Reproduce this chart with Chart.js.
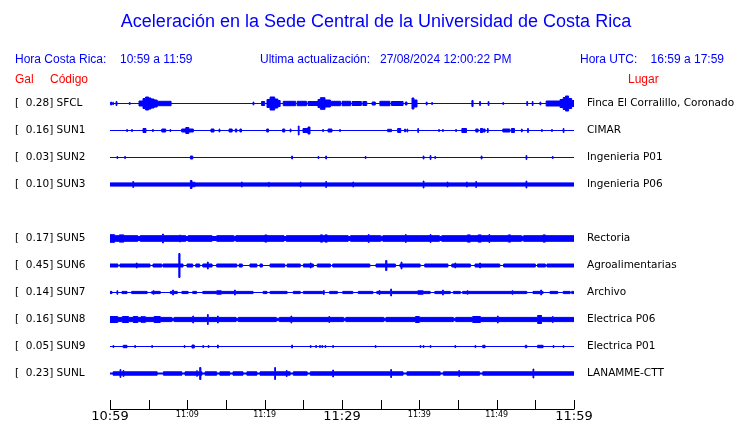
<!DOCTYPE html>
<html>
<head>
<meta charset="utf-8">
<script src="https://cdn.jsdelivr.net/npm/chart.js@4/dist/chart.umd.min.js"></script>
<style>
  html, body { margin: 0; padding: 0; background: #fff; }
  canvas { display: block; }
</style>
</head>
<body>
<canvas id="sismo" width="740" height="423"></canvas>
<script>
// station rows (slot 4 is empty in the original page)
const CODES  = ['SFCL', 'SUN1', 'SUN2', 'SUN3', 'SUN5', 'SUN6', 'SUN7', 'SUN8', 'SUN9', 'SUNL'];
const SLOTS  = [0, 1, 2, 3, 5, 6, 7, 8, 9, 10];
const PEAK_GAL = ['0.28', '0.16', '0.03', '0.10', '0.17', '0.45', '0.14', '0.16', '0.05', '0.23'];
const PLACES = ['Finca El Corralillo, Coronado', 'CIMAR', 'Ingenieria P01', 'Ingenieria P06', 'Rectoria',
                'Agroalimentarias', 'Archivo', 'Electrica P06', 'Electrica P01', 'LANAMME-CTT'];

// time axis (minutes after 10:59)
const TICK_MINUTES = [0, 5, 10, 15, 20, 25, 30, 35, 40, 45, 50, 55, 60];
const LABEL_MINUTES = [0, 10, 20, 30, 40, 50, 60];
const TICK_LABELS = ['10:59', '11:09', '11:19', '11:29', '11:39', '11:49', '11:59'];

// envelope half-amplitude of each trace between events
const BASE_AMP = [0, 0, 0, 1.6, 2.8, 1.5, 1.1, 2.1, 0, 1.7];

// events: [fromMin, toMin, halfAmp]; later entries win where they overlap
const EV_SFCL = [[0.09,0.2,1.5],[0.35,0.45,1.2],[0.78,0.9,2],[2.5,2.6,1],
  [3.75,4.27,2.5],[4.27,4.6,5],[4.6,5.0,6.5],[5.0,5.3,5.5],[5.3,5.7,4.5],[5.7,6.1,3.5],[6.1,7.9,2.2],
  [18.5,18.6,1.5],[19.6,20.0,2],[20.3,20.7,4],[20.7,21.3,6.5],[21.3,21.7,4.5],[21.7,22.0,3],
  [22.4,24.0,2.2],[24.2,25.4,2.2],[25.6,26.9,2],[26.9,27.2,4],[27.2,27.8,5.8],[27.8,28.5,3.5],
  [28.5,29.8,2.2],[30.0,31.1,2.2],[31.3,32.5,2],[32.7,33.2,2],[33.9,34.3,1.5],
  [34.9,36.2,2.2],[36.4,37.9,2],[38.2,38.4,1.5],[39.05,39.3,5.5],[39.3,39.7,3.5],
  [40.9,41.0,1.5],[41.6,41.7,1],[46.8,46.95,3],[47.8,47.9,2],[48.9,49.0,2],[50.8,50.9,1],
  [53.9,54.0,2],[54.6,54.7,2],[55.6,55.7,1.5],[56.4,58.2,2.5],[58.2,58.6,4],[58.6,58.9,6],
  [58.9,59.3,7.5],[59.3,59.7,5],[59.7,60,3]];
const EV_SUN1 = [[2.16,2.26,1],[2.8,2.9,1],[4.27,4.65,2],[5.5,5.6,1],[6.7,7.2,1.5],[7.76,7.86,1],
  [9.27,10.77,1.5],[9.8,10.2,3],[13.06,13.45,1.5],[14.1,14.2,1.5],[15.4,15.8,1.5],[16.2,16.4,1.5],[16.8,17.0,1.5],
  [20.26,20.5,1.5],[22.33,22.6,1.5],[23.3,23.4,1.5],[24.35,24.45,4.5],[24.96,25.86,2],[25.6,25.86,3.5],
  [27.5,27.6,1],[28.2,28.7,1.5],[29.7,29.8,1],[35.9,36.4,1.2],[37.2,37.6,2],[38.1,38.2,1.5],[38.4,38.5,1.5],
  [39.8,39.9,2],[42.5,42.6,1],[43.0,43.1,1],[44.7,44.8,1],[45.5,46.1,2],[47.3,47.6,1.5],[47.9,48.2,2],
  [48.3,48.5,1.5],[48.8,48.9,2],[50.8,51.7,1.5],[51.9,52.3,2],[53.2,53.3,1.5],[54.0,54.1,2],[55.8,55.9,1],
  [57.1,57.2,1],[58.6,58.7,2]];
const EV_SUN2 = [[0.9,1.0,1],[1.9,2.0,1],[10.4,10.7,1.5],[23.5,23.6,1.5],[26.9,27.0,1],[27.9,28.0,1.5],
  [33.0,33.1,1],[40.5,40.6,1.5],[41.4,41.5,2],[42.0,42.1,1],[48.0,48.1,1.5],[53.8,53.9,2],[57.2,57.3,1]];
const EV_SUN3 = [[2.95,3.05,3],[10.6,11.0,2.2],[10.4,10.6,4],[17.0,17.1,2.5],[20.5,20.6,2.2],[24.6,24.7,2.5],
  [27.9,28.0,3],[31.4,31.5,2.5],[40.5,40.6,3.5],[43.6,43.7,2.5],[46.1,46.2,2.5],[47.3,47.4,3],[53.8,53.9,3.5]];
const EV_SUN5 = [[3.6,3.9,2],[9.8,10.1,2],[13.2,13.8,2],[16.0,16.3,2.2],[22.5,22.8,2],[30.8,31.1,2],
  [35.0,35.3,2.2],[42.6,42.9,2],[53.2,53.5,2.2],
  [0,0.6,3.8],[1.2,1.8,3.6],[6.8,6.9,4.5],[9.0,9.1,3.5],[20.0,20.3,3.5],[27.2,27.5,3.6],[27.8,28.1,3.6],
  [33.4,33.5,4],[38.2,38.3,4],[41.4,41.5,4],[46.2,46.6,3.6],[47.6,48.0,3.6],[49.0,49.1,4],[51.5,51.8,3.6],
  [56.0,56.3,3.6]];
const EV_SUN6 = [[1.03,1.29,0],[5.17,5.56,0],[6.7,6.85,0],[9.44,9.96,0],[10.7,11.1,0],[11.6,12.0,0],
  [13.2,13.8,0],[16.4,16.7,0],[17.1,18.1,0],[19.0,19.4,0],[19.7,20.7,0],[22.6,22.9,0],[24.6,25.0,0],
  [26.3,26.8,0],[28.5,28.8,0],[33.6,34.4,0],[36.9,37.5,0],[40.1,40.7,0],[43.7,44.2,0],[46.6,47.2,0],
  [50.4,50.9,0],[55.0,55.3,0],[56.3,56.5,0],
  [8.9,9.05,12],[3.4,3.5,2.5],[12.6,12.7,3.5],[25.9,26.0,2.5],[35.65,35.8,5],[37.65,37.75,3.5],
  [44.6,44.7,2.5],[47.8,47.9,2.5]];
const EV_SUN7 = [[0.26,1.55,0],[2.2,2.8,0],[4.8,5.4,0],[6.5,7.8,0],[8.7,9.3,0],[10.1,10.7,0],[11.2,12.0,0],
  [18.5,19.8,0],[20.3,20.7,0],[22.9,23.7,0],[24.6,25.0,0],[27.5,28.4,0],[29.4,30.1,0],[31.4,32.1,0],
  [34.0,34.5,0],[41.4,42.0,0],[44.0,44.4,0],[45.3,45.6,0],[53.9,54.7,0],[56.0,56.9,0],[57.9,58.6,0],[59.5,59.7,0],
  [0.9,1.0,1.8],[5.6,5.7,1.8],[8.1,8.2,2.5],[13.8,14.4,1.7],[16.1,16.2,2.5],[27.6,27.7,2],[34.8,34.9,2],
  [36.3,36.4,3.5],[39.8,40.5,1.7],[43.0,43.1,2.5],[46.2,46.3,1.8],[52.0,52.1,1.8],[55.7,55.8,2.5]];
const EV_SUN8 = [[8.0,8.3,1.2],[16.3,16.6,1.2],[21.5,21.9,1.2],[30.2,30.5,1.2],[35.4,35.7,1.2],[44.4,44.7,1.2],
  [0,1.0,3],[1.6,2.4,3],[3.0,3.6,3],[4.0,4.6,2.8],[5.7,6.5,3],[10.7,10.8,3.5],[12.6,12.7,5],[13.9,14.0,3.5],
  [23.4,23.5,3.5],[28.3,28.4,3],[39.5,40.0,3],[46.9,47.9,3],[50.1,50.2,3.5],[55.3,55.8,4],[57.2,57.3,3]];
const EV_SUN9 = [[0.39,0.49,1],[1.7,2.2,1.2],[3.2,3.3,1],[5.4,5.5,1],[9.6,9.7,1],[10.6,10.9,1.5],[12.0,12.1,1],
  [12.7,12.8,1],[13.9,14.0,1.5],[23.5,23.6,1.5],[25.9,26.0,1],[26.6,26.7,1],[27.1,27.2,1],[27.4,27.5,1],
  [27.8,27.9,1],[28.8,28.9,1],[34.3,34.4,1],[40.1,40.2,1],[40.5,40.6,1],[41.4,41.5,1],[44.6,44.7,1],
  [47.2,47.3,1],[48.2,48.5,1.2],[53.7,53.9,1.2],[55.3,56.0,1.2],[57.3,57.4,1],[58.6,58.7,1]];
const EV_SUNL = [[0,0.4,0.5],[6.1,6.9,0.5],[9.3,9.7,0.5],[11.9,12.3,0.5],[13.8,14.2,0.5],[15.5,15.9,0.5],
  [17.2,17.7,0.5],[19.0,19.4,0.5],[23.3,23.7,0.5],[25.5,25.9,0.5],[37.9,38.4,0.5],[42.7,43.1,0.5],[47.8,48.2,0.5],
  [1.3,1.4,4],[1.7,1.8,3],[11.2,11.3,2.8],[11.6,11.75,6],[21.3,21.4,6],[22.8,22.9,3],[28.8,28.9,3.5],
  [36.3,36.4,4],[45.1,45.2,3],[54.7,54.8,4.5]];
const EVENTS = [EV_SFCL, EV_SUN1, EV_SUN2, EV_SUN3, EV_SUN5, EV_SUN6, EV_SUN7, EV_SUN8, EV_SUN9, EV_SUNL];

const ROW_GAP = 27;
const BLUE = '#0000ff';

// stepped envelope: value holds from each breakpoint to the next
function envelope(base, events) {
  const set = new Set([0, 60]);
  events.forEach(e => { set.add(e[0]); set.add(e[1]); });
  const xs = Array.from(set).filter(x => x >= 0 && x <= 60).sort((a, b) => a - b);
  const out = [];
  for (let i = 0; i < xs.length - 1; i++) {
    const mid = (xs[i] + xs[i + 1]) / 2;
    let a = base;
    events.forEach(e => { if (mid >= e[0] && mid < e[1]) a = e[2]; });
    out.push([xs[i], a]);
  }
  out.push([60, out[out.length - 1][1]]);
  return out;
}

const datasets = [];
CODES.forEach((code, i) => {
  const env = envelope(BASE_AMP[i], EVENTS[i]);
  const row = SLOTS[i] * ROW_GAP;
  const common = { borderColor: BLUE, backgroundColor: BLUE, borderWidth: 1, pointRadius: 0, stepped: true, tension: 0 };
  datasets.push(Object.assign({ label: code + ' +', data: env.map(p => ({ x: p[0], y: row - p[1] })), fill: false }, common));
  datasets.push(Object.assign({ label: code + ' -', data: env.map(p => ({ x: p[0], y: row + p[1] })), fill: '-1' }, common));
});

function rowLabel(value, list) {
  const k = SLOTS.indexOf(Math.round(value / ROW_GAP));
  return k < 0 ? '' : list(k);
}

const textPlugin = {
  id: 'pageText',
  afterDraw(chart) {
    const ctx = chart.ctx;
    const xs = chart.scales.x;
    ctx.save();
    ctx.textBaseline = 'middle';
    ctx.fillStyle = BLUE;
    ctx.font = '18px "Liberation Sans", Arial, sans-serif';
    ctx.textAlign = 'center';
    ctx.fillText('Aceleración en la Sede Central de la Universidad de Costa Rica', 376, 22);

    ctx.font = '12px "Liberation Sans", Arial, sans-serif';
    ctx.textAlign = 'left';
    ctx.fillText('Hora Costa Rica:', 15, 60);
    ctx.fillText('10:59 a 11:59', 120, 60);
    ctx.fillText('Ultima actualización:', 260, 60);
    ctx.fillText('27/08/2024 12:00:22 PM', 380, 60);
    ctx.fillText('Hora UTC:', 580, 60);
    ctx.textAlign = 'right';
    ctx.fillText('16:59 a 17:59', 724, 60);

    ctx.fillStyle = '#ff0000';
    ctx.textAlign = 'left';
    ctx.fillText('Gal', 15, 80);
    ctx.fillText('Código', 50, 80);
    ctx.fillText('Lugar', 628, 80);

    // time axis with ticks pointing up
    const y0 = 409.5;
    ctx.strokeStyle = '#000';
    ctx.lineWidth = 1;
    ctx.beginPath();
    ctx.moveTo(xs.getPixelForValue(0), y0);
    ctx.lineTo(xs.getPixelForValue(60), y0);
    TICK_MINUTES.forEach(m => {
      const px = Math.round(xs.getPixelForValue(m)) + 0.5;
      ctx.moveTo(px, y0);
      ctx.lineTo(px, y0 - 9.5);
    });
    ctx.stroke();

    ctx.fillStyle = '#000';
    ctx.textAlign = 'center';
    ctx.textBaseline = 'top';
    LABEL_MINUTES.forEach((m, k) => {
      const big = m % 30 === 0;
      ctx.font = big ? '13px "DejaVu Sans", sans-serif' : '8px "DejaVu Sans", sans-serif';
      ctx.fillText(TICK_LABELS[k], xs.getPixelForValue(m), big ? 410 : 411);
    });
    ctx.restore();
  }
};

const slotTicks = scale => { scale.ticks = SLOTS.map(s => ({ value: s * ROW_GAP })); };

new Chart(document.getElementById('sismo'), {
  type: 'line',
  data: { datasets: datasets },
  options: {
    responsive: false,
    animation: false,
    devicePixelRatio: 1,
    layout: { padding: { top: 83, bottom: 14, left: 15, right: 0 } },
    plugins: { legend: { display: false }, tooltip: { enabled: false }, title: { display: false } },
    scales: {
      x: { type: 'linear', min: 0, max: 60, display: false },
      y: {
        type: 'linear', position: 'left', reverse: true, min: -20.5, max: 305.5,
        afterBuildTicks: slotTicks,
        afterFit: s => { s.width = 95; s.paddingTop = 0; s.paddingBottom = 0; },
        grid: { display: false, drawTicks: false }, border: { display: false },
        ticks: {
          autoSkip: false, crossAlign: 'far', color: '#000',
          font: { family: 'DejaVu Sans', size: 10.5 },
          callback: v => rowLabel(v, k => '[  ' + PEAK_GAL[k] + '] ' + CODES[k])
        }
      },
      y2: {
        type: 'linear', position: 'right', reverse: true, min: -20.5, max: 305.5,
        afterBuildTicks: slotTicks,
        afterFit: s => { s.width = 166; s.paddingTop = 0; s.paddingBottom = 0; },
        grid: { display: false, drawTicks: false }, border: { display: false },
        ticks: {
          autoSkip: false, padding: 13, color: '#000',
          font: { family: 'DejaVu Sans', size: 10.5 },
          callback: v => rowLabel(v, k => PLACES[k])
        }
      }
    }
  },
  plugins: [textPlugin]
});
</script>
</body>
</html>
